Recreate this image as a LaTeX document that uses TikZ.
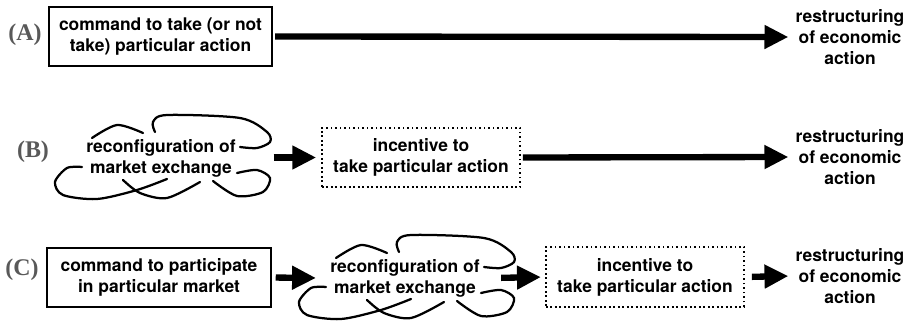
\documentclass[tikz,border=0pt]{standalone}
\usepackage{fontspec}
\setmainfont{TeX Gyre Heros}
\newfontfamily\tagfont{Liberation Serif}
\usetikzlibrary{arrows.meta,positioning}

% loose strokes round a text node
\newcommand{\cloudlines}[1]{%
  \begin{scope}[shift={(#1.center)}, line width=1.6pt, line cap=round]
    \draw plot[smooth] coordinates {(-69,-20) (-44,-33) (-18,-25)};
    \draw plot[smooth] coordinates {(-6,-26) (-8,-36) (6,-43) (79,-40) (106,-26) (109,-16) (96,-10) (79,-11)};
    \draw plot[smooth] coordinates {(-79,9) (-94,10) (-106,24) (-98,37) (-64,41) (-24,32) (6,21)};
    \draw plot[smooth] coordinates {(-38,22) (-21,35) (6,40) (39,24)};
    \draw plot[smooth] coordinates {(76,15) (96,12) (109,20) (102,34) (76,38) (52,23)};
  \end{scope}}

\begin{document}
\begin{tikzpicture}[x=0.025cm, y=-0.025cm,
    txt/.style={font=\bfseries\fontsize{12.4}{14.8}\selectfont, align=center},
    box/.style={txt, draw, line width=1.4pt, inner sep=0pt, minimum width=5.575cm, minimum height=1.475cm},
    dotbox/.style={txt, draw, dotted, line width=1.2pt, inner sep=0pt, minimum width=4.95cm, minimum height=1.49cm},
    tangle/.style={txt, inner xsep=9pt, inner ysep=2pt},
    result/.style={txt, inner sep=4pt},
    tag/.style={font=\tagfont\bfseries\fontsize{17}{17}\selectfont, text=black!65},
    fat/.style={line width=4.5pt, -{Triangle[length=17pt, width=16pt]}, shorten <=1.5pt, shorten >=1pt}]
    \useasboundingbox (0,0) rectangle (912,322);

    % row A
    \node[tag] (tagA) at (25,35) {(A)};
    \node[box] (cmdA) at (160.5,36.5) {command to take (or not\\take) particular action};
    \node[result] (resA) at (850,37) {restructuring\\of economic\\action};

    % row B
    \node[tag] (tagB) at (33,152) {(B)};
    \node[tangle] (tangleB) at (161,158) {reconfiguration of\\market exchange};
    \node[dotbox] (incB) at (421,157.5) {incentive to\\take particular action};
    \node[result] (resB) at (850,157) {restructuring\\of economic\\action};

    % row C
    \node[tag] (tagC) at (22,270) {(C)};
    \node[box] (cmdC) at (159,277.5) {command to participate\\in particular market};
    \node[tangle] (tangleC) at (405,278) {reconfiguration of\\market exchange};
    \node[dotbox] (incC) at (645,277) {incentive to\\take particular action};
    \node[result] (resC) at (850,276) {restructuring\\of economic\\action};

    \cloudlines{tangleB}
    \cloudlines{tangleC}

    % arrows
    \draw[fat] (cmdA.east) -- (resA.west);
    \draw[fat, shorten <=17.8pt, shorten >=3.5pt] (tangleB.east |- incB.west) -- (incB.west);
    \draw[fat] (incB.east) -- (resB.west);
    \draw[fat, shorten <=3pt] (cmdC.east) -- (tangleC.west);
    \draw[fat, shorten <=6pt, shorten >=3pt] (tangleC.east) -- (incC.west);
    \draw[fat, shorten <=5pt] (incC.east) -- (resC.west);
\end{tikzpicture}
\end{document}
